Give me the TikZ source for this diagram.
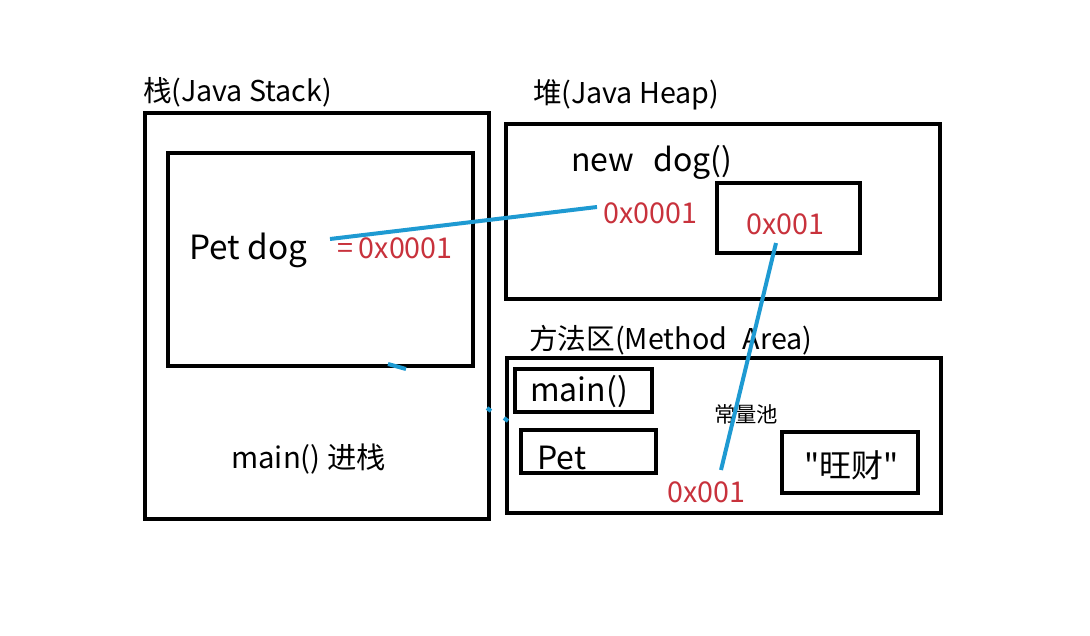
\documentclass[tikz,border=0pt]{standalone}
\usepackage{fontspec}
\setmainfont{Noto Sans CJK SC}
\newfontfamily\plaincjk{Noto Sans CJK SC}
\usetikzlibrary{positioning}
\definecolor{addrred}{RGB}{200,50,60}
\definecolor{linkblue}{RGB}{30,154,210}

\begin{document}
\begin{tikzpicture}[x=0.75pt,y=-0.75pt]
    \tikzset{
        area/.style = {draw=black, line width=3pt},
        title/.style = {inner sep=0pt, anchor=west, font=\fontsize{21.5}{24}\selectfont},
        label/.style = {inner sep=0pt, anchor=west, font=\fontsize{24}{27}\selectfont},
        addr/.style = {inner sep=0pt, anchor=west, text=addrred, font=\fontsize{21.5}{24}\selectfont},
        line/.style = {draw=linkblue, line width=3pt},
    }
    \useasboundingbox (0,0) rectangle (1090,636);

    % stack
    \draw[area] (145,113) rectangle (489,519);
    \draw[area] (168,153) rectangle (473,366);
    \node[title](stack) at (143,92){栈(Java Stack)};
    \node[label, font=\fontsize{25}{28}\selectfont](petdog) at (189,250){Pet dog};
    \node[addr](ref) at (337,248){=\hspace{0.2em}0x0001};
    \node[title, font=\fontsize{22}{25}\selectfont](push) at (231,459){main() 进栈};

    % heap
    \draw[area] (506,124) rectangle (940,299);
    \draw[area] (717,183) rectangle (860,253);
    \node[title](heap) at (533,95){堆(Java Heap)};
    \node[label](new) at (571,162){new\hspace{0.6em}dog()};
    \node[addr](obj) at (603,213){0x0001};
    \node[addr](name) at (746,224){0x001};

    % method area
    \draw[area] (507,358) rectangle (941,513);
    \draw[area] (515,369) rectangle (652,412);
    \draw[area] (521,430) rectangle (656,473);
    \draw[area] (782,432) rectangle (918,493);
    \node[title](method) at (529,340){方法区(Method\hspace{0.55em}Area)};
    \node[label](mainm) at (530,392){main()};
    \node[label](pet) at (537,458){Pet};
    \node[inner sep=0pt, font=\fontsize{16}{19}\selectfont](pool) at (746,414){常量池};
    \node[addr](const) at (667,492){0x001};
    \node[label, font=\fontsize{24}{27}\plaincjk](wangcai) at (804,465){"旺财"};

    % links
    \coordinate (a1) at (330,239);
    \coordinate (a2) at (597,207);
    \coordinate (b1) at (776,243);
    \coordinate (b2) at (721,470);
    \coordinate (c1) at (388,364);
    \coordinate (c2) at (406,369);
    \coordinate (d1) at (487,408);
    \coordinate (d2) at (491,411);
    \coordinate (e1) at (504,418);
    \coordinate (e2) at (508,421);
    \path [line] (a1) -- (a2);
    \path [line] (b1) -- (b2);
    \path [line] (c1) -- (c2);
    \path [line] (d1) -- (d2);
    \path [line] (e1) -- (e2);
\end{tikzpicture}
\end{document}
